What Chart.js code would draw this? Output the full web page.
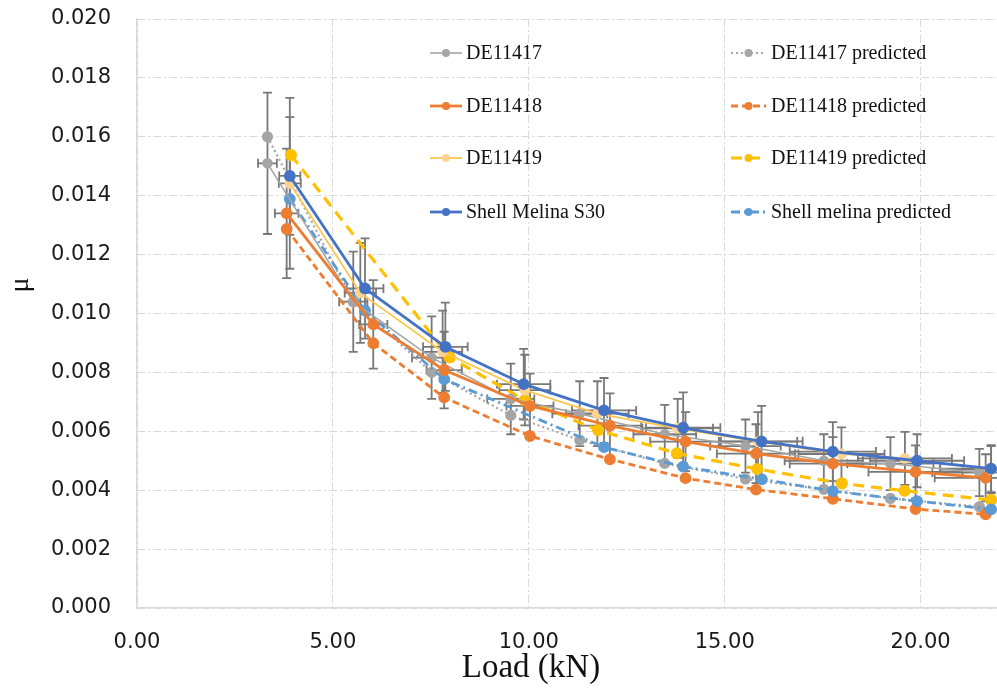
<!DOCTYPE html>
<html>
<head>
<meta charset="utf-8">
<script src="https://cdn.jsdelivr.net/npm/chart.js@4.4.0/dist/chart.umd.min.js"></script>
<style>
  html, body { margin: 0; background: #fff; }
</style>
</head>
<body>
<canvas id="muChart" width="997" height="689"></canvas>
<script>
// Data ---------------------------------------------------------------

// DE11417 (measured + predicted share the same loads)
const de11417Load = [3.33, 5.52, 7.52, 9.54, 11.30, 13.47, 15.53, 17.53, 19.23, 21.50];
const de11417Mu = [0.0151, 0.0104, 0.0085, 0.0071, 0.0066, 0.0059, 0.0055, 0.0050, 0.0049, 0.0046];
const de11417PredMu = [0.0160, 0.0104, 0.0080, 0.00654, 0.0057, 0.00491, 0.00438, 0.00403, 0.00372, 0.00344];
const de11417LoadErr = [0.24, 0.36, 0.50, 0.60, 0.70, 0.80, 0.90, 1.00, 1.10, 1.20];
const de11417MuErr = [0.0024, 0.0017, 0.0014, 0.0012, 0.0011, 0.0010, 0.0009, 0.0009, 0.0009, 0.0008];

// DE11418
const de11418Load = [3.82, 6.03, 7.84, 10.03, 12.07, 14.00, 15.80, 17.76, 19.87, 21.66];
const de11418Mu = [0.0134, 0.00963, 0.00808, 0.00686, 0.00619, 0.00565, 0.00524, 0.0049, 0.00462, 0.00442];
const de11418PredMu = [0.01287, 0.00899, 0.00715, 0.00584, 0.00505, 0.00441, 0.00402, 0.00371, 0.00336, 0.00318];
const de11418LoadErr = [0.30, 0.36, 0.45, 0.60, 0.80, 0.90, 1.00, 1.10, 1.20, 1.30];
const de11418MuErr = [0.0022, 0.0015, 0.0013, 0.0011, 0.0011, 0.0010, 0.0010, 0.0009, 0.0009, 0.0008];

// DE11419
const de11419Load = [3.90, 5.70, 7.80, 9.90, 11.75, 13.80, 15.85, 17.98, 19.60, 21.80];
const de11419Mu = [0.01442, 0.0107, 0.0087, 0.0074, 0.0066, 0.0061, 0.00565, 0.00523, 0.00508, 0.0047];
const de11419PredLoad = [3.93, 7.98, 9.90, 11.77, 13.78, 15.83, 17.99, 19.59, 21.80];
const de11419PredMu = [0.01538, 0.00851, 0.00706, 0.00604, 0.00525, 0.00472, 0.00423, 0.00398, 0.00367];
const de11419LoadErr = [0.28, 0.40, 0.50, 0.65, 0.80, 0.90, 1.00, 1.10, 1.20, 1.30];
const de11419MuErr = [0.0029, 0.0017, 0.0014, 0.0012, 0.0011, 0.0010, 0.0010, 0.0009, 0.0009, 0.0008];

// Shell Melina S30
const shellLoad = [3.90, 5.82, 7.87, 9.87, 11.92, 13.94, 15.94, 17.76, 19.91, 21.80];
const shellMu = [0.01467, 0.01085, 0.00887, 0.0076, 0.00671, 0.00612, 0.00566, 0.00531, 0.0050, 0.00473];
const shellPredLoad = [3.90, 5.82, 7.84, 11.92, 13.94, 15.95, 17.76, 19.91, 21.80];
const shellPredMu = [0.01389, 0.0101, 0.00777, 0.00546, 0.0048, 0.00437, 0.00397, 0.00363, 0.00335];
const shellLoadErr = [0.27, 0.47, 0.57, 0.68, 0.82, 0.95, 1.05, 1.10, 1.20, 1.30];
const shellMuErr = [0.0020, 0.0017, 0.0015, 0.0012, 0.0011, 0.0012, 0.0012, 0.0010, 0.0009, 0.0008];

// helpers ------------------------------------------------------------

const pts = (xs, ys) => xs.map((v, i) => ({ x: v, y: ys[i] }));

const series = (label, xs, ys, color, fill, width, dash, order) => ({
  label,
  data: pts(xs, ys),
  borderColor: color,
  backgroundColor: fill,
  pointBackgroundColor: fill,
  pointBorderColor: fill,
  pointRadius: 4.5,
  pointHoverRadius: 4.5,
  borderWidth: width,
  borderDash: dash,
  tension: 0,
  showLine: true,
  order
});

// measured series carry the error bars
const measured = [
  { load: de11417Load, mu: de11417Mu, loadErr: de11417LoadErr, muErr: de11417MuErr },
  { load: de11418Load, mu: de11418Mu, loadErr: de11418LoadErr, muErr: de11418MuErr },
  { load: de11419Load, mu: de11419Mu, loadErr: de11419LoadErr, muErr: de11419MuErr },
  { load: shellLoad, mu: shellMu, loadErr: shellLoadErr, muErr: shellMuErr }
];

// plugins ------------------------------------------------------------

const errorBars = {
  id: 'errorBars',
  beforeDatasetsDraw(chart) {
    const { ctx, scales: { x, y } } = chart;
    const cap = 4.5;
    ctx.save();
    ctx.strokeStyle = '#787878';
    ctx.lineWidth = 1.8;
    measured.forEach(s => {
      s.load.forEach((l, i) => {
        const px = x.getPixelForValue(l);
        const py = y.getPixelForValue(s.mu[i]);
        const top = y.getPixelForValue(s.mu[i] + s.muErr[i]);
        const bot = y.getPixelForValue(s.mu[i] - s.muErr[i]);
        const lft = x.getPixelForValue(l - s.loadErr[i]);
        const rgt = x.getPixelForValue(l + s.loadErr[i]);
        ctx.beginPath();
        ctx.moveTo(px, top); ctx.lineTo(px, bot);
        ctx.moveTo(px - cap, top); ctx.lineTo(px + cap, top);
        ctx.moveTo(px - cap, bot); ctx.lineTo(px + cap, bot);
        ctx.moveTo(lft, py); ctx.lineTo(rgt, py);
        ctx.moveTo(lft, py - cap); ctx.lineTo(lft, py + cap);
        ctx.moveTo(rgt, py - cap); ctx.lineTo(rgt, py + cap);
        ctx.stroke();
      });
    });
    ctx.restore();
  }
};

// two-column legend sitting inside the plot
const legendCols = [
  { x0: 430, x1: 462, tx: 466 },
  { x0: 731, x1: 766, tx: 771 }
];
const legendRows = [53, 106, 158, 212];

const twoColLegend = {
  id: 'twoColLegend',
  afterDatasetsDraw(chart) {
    const { ctx } = chart;
    ctx.save();
    chart.data.datasets.forEach((ds, i) => {
      const col = legendCols[i < 4 ? 0 : 1];
      const y = legendRows[i % 4];
      ctx.beginPath();
      ctx.setLineDash(ds.borderDash || []);
      ctx.strokeStyle = ds.borderColor;
      ctx.lineWidth = ds.borderWidth;
      ctx.moveTo(col.x0, y);
      ctx.lineTo(col.x1, y);
      ctx.stroke();
      ctx.setLineDash([]);
      ctx.beginPath();
      ctx.fillStyle = ds.pointBackgroundColor;
      ctx.arc((col.x0 + col.x1) / 2, y, 4, 0, Math.PI * 2);
      ctx.fill();
      ctx.fillStyle = '#111';
      ctx.font = '20px "Liberation Serif", "Times New Roman", serif';
      ctx.textAlign = 'left';
      ctx.textBaseline = 'middle';
      ctx.fillText(ds.label, col.tx, y + 1);
    });
    ctx.restore();
  }
};

const axisTitles = {
  id: 'axisTitles',
  afterDraw(chart) {
    const { ctx } = chart;
    ctx.save();
    ctx.fillStyle = '#111';
    ctx.textAlign = 'center';
    ctx.textBaseline = 'middle';
    ctx.font = '33px "Liberation Serif", "Times New Roman", serif';
    ctx.fillText('Load (kN)', 531, 668);
    ctx.translate(21, 285);
    ctx.rotate(-Math.PI / 2);
    ctx.font = '28px "Liberation Serif", "Times New Roman", serif';
    ctx.fillText('μ', 0, 0);
    ctx.restore();
  }
};

// chart --------------------------------------------------------------

const data = {
  datasets: [
    series('DE11417', de11417Load, de11417Mu, '#A5A5A5', '#A5A5A5', 1.6, [], 4),
    series('DE11418', de11418Load, de11418Mu, '#ED7D31', '#ED7D31', 2.8, [], 3),
    series('DE11419', de11419Load, de11419Mu, '#FFC54F', '#FFD38F', 1.8, [], 2),
    series('Shell Melina S30', shellLoad, shellMu, '#4472C4', '#4472C4', 2.8, [], 1),
    series('DE11417 predicted', de11417Load, de11417PredMu, '#A5A5A5', '#A5A5A5', 2.2, [2, 3], 8),
    series('DE11418 predicted', de11418Load, de11418PredMu, '#ED7D31', '#ED7D31', 2.8, [7, 4], 7),
    series('DE11419 predicted', de11419PredLoad, de11419PredMu, '#FFC000', '#FFC000', 3.2, [11, 7], 6),
    series('Shell melina predicted', shellPredLoad, shellPredMu, '#5B9BD5', '#5B9BD5', 2.8, [9, 4, 2, 4], 5)
  ]
};

const gridColor = '#D9D9D9';
const tickFont = { family: '"DejaVu Sans", Verdana, sans-serif', size: 21 };

const config = {
  type: 'scatter',
  data,
  plugins: [errorBars, twoColLegend, axisTitles],
  options: {
    responsive: false,
    animation: false,
    layout: { autoPadding: false, padding: { top: 19, right: 0, bottom: 0, left: 0 } },
    plugins: {
      legend: { display: false },
      tooltip: { enabled: false }
    },
    scales: {
      x: {
        type: 'linear',
        min: 0,
        max: 21.95,
        afterFit: s => { s.height = 81; s.paddingRight = 0; },
        grid: { color: gridColor, lineWidth: 1, drawTicks: false },
        border: { color: gridColor, width: 1.5, dash: [8, 3, 2, 3] },
        ticks: {
          stepSize: 5,
          includeBounds: false,
          padding: 22,
          color: '#1a1a1a',
          font: tickFont,
          maxRotation: 0,
          callback: v => Number(v).toFixed(2)
        }
      },
      y: {
        min: 0,
        max: 0.02,
        afterFit: s => { s.width = 137; s.paddingTop = 0; },
        grid: { color: gridColor, lineWidth: 1, drawTicks: false },
        border: { color: gridColor, width: 1.5, dash: [8, 3, 2, 3] },
        ticks: {
          stepSize: 0.002,
          padding: 26,
          color: '#1a1a1a',
          font: tickFont,
          callback: v => Number(v).toFixed(3)
        }
      }
    }
  }
};

const muChart = new Chart(document.getElementById('muChart'), config);
</script>
</body>
</html>
